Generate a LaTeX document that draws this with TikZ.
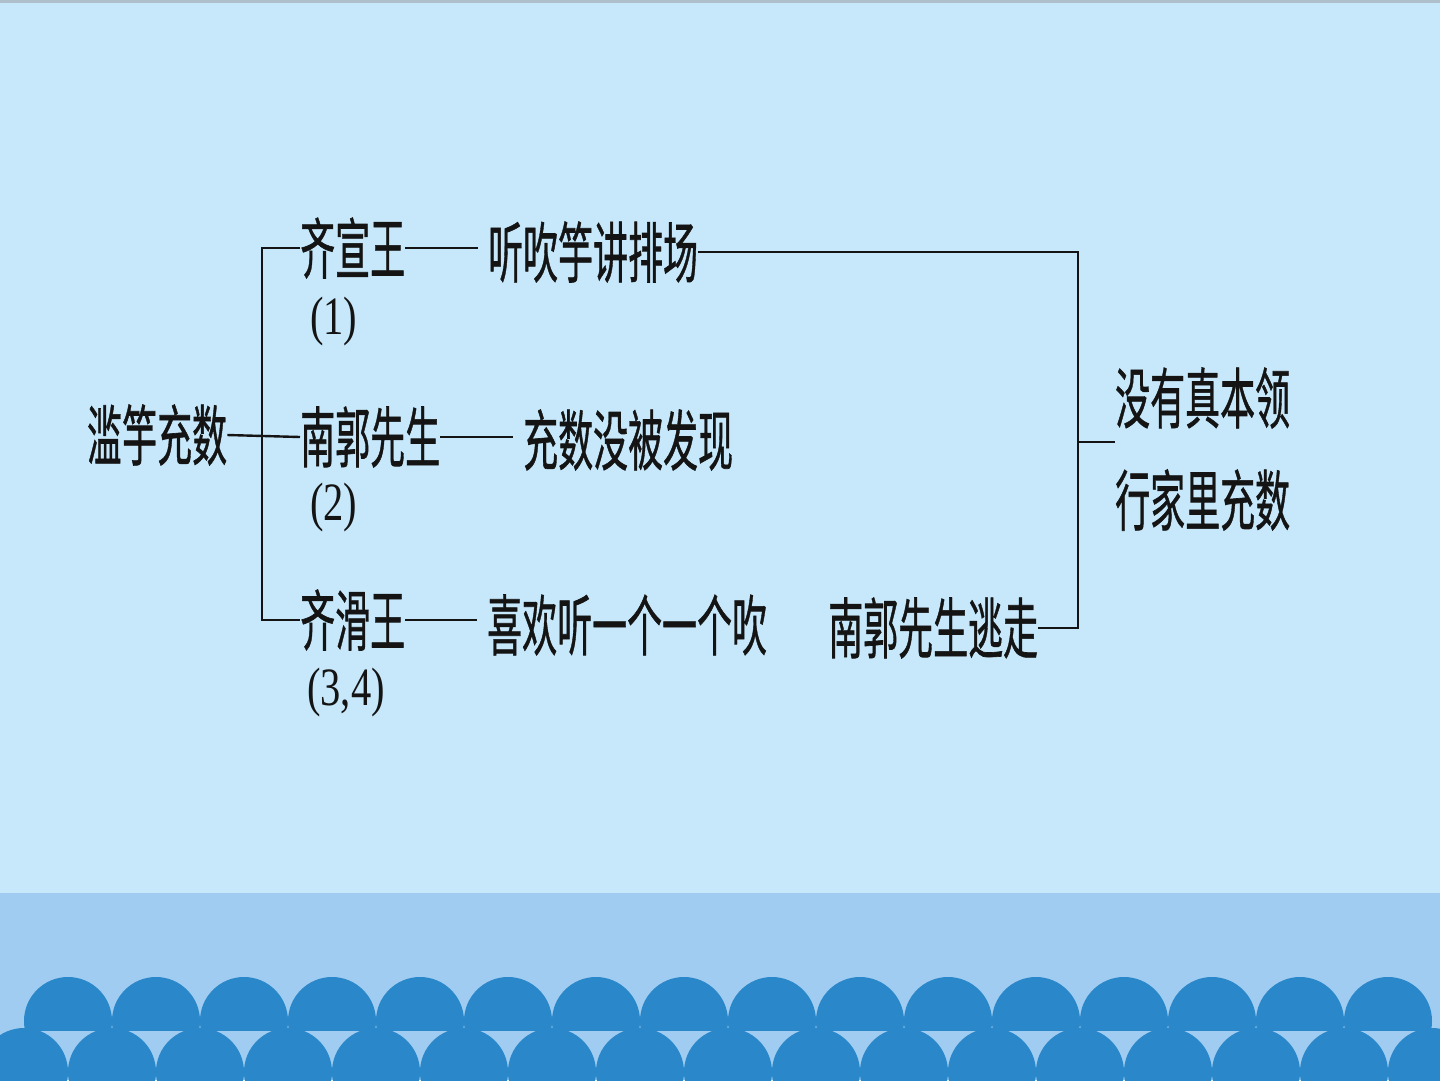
\documentclass[tikz,border=0pt]{standalone}
\usepackage{fontspec}
\newfontfamily\cjk[FakeBold=1]{Noto Sans CJK SC}
\newfontfamily\numfont{Liberation Serif}
\definecolor{bgtop}{HTML}{C6E8FA}
\definecolor{band}{HTML}{9FCCF0}
\definecolor{wave}{HTML}{2A87CA}
\definecolor{ink}{HTML}{141414}
\definecolor{rim}{HTML}{AEBECB}
\newcommand{\cn}[1]{\scalebox{0.53}[1]{\cjk\fontsize{66}{66}\selectfont #1}}
\newcommand{\pn}[1]{\scalebox{0.75}[1]{\numfont\fontsize{54}{54}\selectfont #1}}
\tikzset{
  lbl/.style={inner sep=0pt, anchor=west, text=ink},
  conn/.style={draw=ink, line width=2.4pt},
}
\begin{document}
\begin{tikzpicture}[x=1pt,y=-1pt]
\useasboundingbox (0,0) rectangle (1440,1080);
% background
\fill[bgtop] (0,0) rectangle (1440,1080);
\fill[rim] (0,0) rectangle (1440,3);
\fill[band] (0,893) rectangle (1440,1080);
\begin{scope}
  \clip (0,893) rectangle (1440,1030);
  \foreach \k in {0,...,15}{
    \fill[wave] ({68+88*\k},1021) circle (44pt);
  }
\end{scope}
\begin{scope}
  \clip (0,893) rectangle (1440,1080);
  \foreach \k in {0,...,16}{
    \fill[wave] ({24+88*\k},1072) circle (44pt);
  }
\end{scope}
% nodes
\node[lbl] (lyc) at (87,435) {\cn{滥竽充数}};
\node[lbl] (qxw) at (300,248) {\cn{齐宣王}};
\node[lbl] (p1) at (310,322) {\pn{(1)}};
\node[lbl] (ngxs) at (300,437) {\cn{南郭先生}};
\node[lbl] (p2) at (310,508) {\pn{(2)}};
\node[lbl] (qhw) at (300,620) {\cn{齐滑王}};
\node[lbl] (p34) at (307,693) {\pn{(3,4)}};
\node[lbl] (tcj) at (488,252) {\cn{听吹竽讲排场}};
\node[lbl] (csm) at (523,440) {\cn{充数没被发现}};
\node[lbl] (xh) at (487,625) {\cn{喜欢听一个一个吹}};
\node[lbl] (nt) at (828,628) {\cn{南郭先生逃走}};
\node[lbl] (r1) at (1115,398) {\cn{没有真本领}};
\node[lbl] (r2) at (1115,500) {\cn{行家里充数}};
\coordinate (jl) at (262,435);
\coordinate (jr) at (1078,442);
% connectors
\draw[conn] (lyc.east) -- (ngxs.west);
\draw[conn] (qxw.west) -| (jl) |- (qhw.west);
\draw[conn, shorten >=10pt] (qxw.east) -- (qxw.east -| tcj.west);
\draw[conn, shorten >=10pt] (ngxs.east) -- (ngxs.east -| csm.west);
\draw[conn, shorten >=10pt] (qhw.east) -- (qhw.east -| xh.west);
\draw[conn] (tcj.east) -| (jr) |- (nt.east);
\draw[conn] (jr) -- (jr -| r1.west);
\end{tikzpicture}
\end{document}
